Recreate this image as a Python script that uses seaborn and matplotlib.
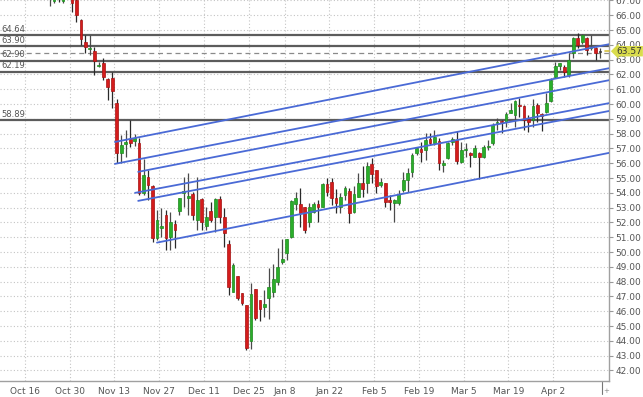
import numpy as np
import pandas as pd
import matplotlib
matplotlib.use("Agg")
import matplotlib.pyplot as plt
import matplotlib.transforms as mtransforms
import seaborn as sns

# ---------------- data ----------------
start_index = 5  # first listed trading day (0 = Oct 16)
opens = [67.4, 66.95, 67.3, 66.95, 67.6, 67.4, 67.0, 65.7, 64.2, 63.72, 63.6, 62.58, 62.75, 61.7, 61.75,
         60.07, 56.69, 57.3, 57.65, 57.5, 57.37, 54.0, 55.07, 54.46, 50.95, 51.65, 52.5, 51.02, 51.9,
         52.77, 54.0, 53.65, 53.92, 52.16, 53.58, 51.76, 52.77, 52.37, 53.58, 52.37, 50.54, 47.3, 48.38,
         47.23, 46.42, 43.99, 47.5, 46.76, 46.28, 46.89, 47.3, 47.97, 49.33, 49.93, 51.02, 53.25, 53.25,
         53.05, 52.03, 52.7, 53.25, 53.05, 54.6, 54.73, 53.65, 53.05, 53.85, 54.12, 52.7, 53.72, 54.67,
         54.67, 55.95, 55.54, 54.53, 54.67, 53.52, 53.32, 53.32, 54.19, 54.87, 55.41, 56.69, 56.96, 56.89,
         57.64, 57.37, 57.5, 55.9, 56.35, 57.43, 57.57, 56.08, 56.89, 56.69, 56.42, 56.69, 56.42, 57.1,
         57.37, 58.72, 58.85, 58.79, 59.39, 59.26, 59.96, 59.87, 58.99, 58.92, 59.93, 59.33, 59.46, 60.2,
         61.83, 62.57, 62.5, 61.96, 63.45, 64.46, 64.19, 64.46, 63.79, 63.79, 63.52]
highs = [67.8, 67.5, 67.6, 67.4, 67.9, 67.6, 67.2, 65.75, 64.65, 64.65, 63.85, 62.85, 63.1, 61.75, 62.15,
         60.34, 57.9, 58.25, 58.92, 57.95, 57.7, 56.3, 55.54, 54.53, 52.84, 52.97, 52.84, 52.7, 52.16,
         53.65, 55.07, 55.34, 54.06, 55.07, 53.65, 53.05, 53.38, 53.65, 53.8, 52.97, 50.81, 49.26, 48.38,
         47.23, 46.42, 47.9, 47.5, 46.76, 47.43, 48.92, 49.19, 50.27, 50.88, 50.88, 53.52, 54.06, 54.33,
         53.05, 53.32, 53.38, 53.52, 54.67, 55.0, 55.0, 54.26, 53.99, 54.46, 54.33, 54.46, 55.34, 55.81,
         56.08, 56.35, 55.54, 55.0, 54.67, 53.85, 53.58, 54.19, 55.41, 55.68, 56.69, 57.1, 57.43, 58.04,
         58.04, 58.25, 57.7, 56.22, 57.43, 57.77, 58.18, 57.43, 57.37, 56.76, 57.23, 56.76, 57.23, 57.57,
         58.72, 59.06, 58.92, 59.46, 60.07, 60.27, 60.41, 59.93, 59.26, 60.34, 60.07, 59.39, 60.75, 61.76,
         62.84, 62.77, 62.64, 63.45, 64.53, 64.8, 64.73, 64.53, 64.67, 63.86, 63.79]
lows = [66.6, 66.8, 66.9, 66.8, 67.1, 66.2, 65.55, 64.0, 63.45, 63.3, 61.95, 62.5, 61.6, 60.27, 59.73,
        56.02, 56.02, 56.42, 57.1, 57.15, 53.85, 53.85, 53.52, 50.68, 50.81, 51.02, 50.14, 50.14, 50.27,
        52.5, 53.05, 52.5, 52.16, 51.49, 51.49, 51.49, 52.03, 51.35, 51.96, 50.34, 47.1, 47.3, 46.76,
        46.42, 43.38, 43.45, 45.41, 45.34, 45.61, 45.47, 46.96, 47.77, 49.19, 49.46, 50.95, 52.84, 51.69,
        51.28, 51.69, 52.64, 52.03, 53.05, 53.8, 53.18, 52.64, 52.64, 53.52, 51.96, 52.64, 53.72, 53.72,
        53.99, 54.67, 53.99, 54.4, 53.05, 52.84, 52.03, 53.18, 54.06, 54.06, 55.07, 56.56, 56.08, 56.22,
        57.23, 57.23, 55.54, 55.41, 56.29, 57.23, 55.95, 56.02, 56.42, 55.74, 56.42, 54.94, 56.35, 56.89,
        57.23, 58.25, 58.04, 58.45, 59.39, 58.45, 59.12, 58.25, 58.11, 58.45, 58.79, 58.18, 59.39, 60.14,
        61.76, 62.3, 61.83, 61.83, 63.11, 63.79, 64.06, 63.31, 63.65, 62.98, 63.11]
closes = [67.6, 67.3, 67.1, 67.25, 67.4, 66.85, 66.0, 64.4, 63.85, 63.8, 62.9, 62.65, 61.8, 61.15, 60.88,
          56.69, 57.23, 57.45, 57.37, 57.7, 54.0, 55.2, 54.53, 50.95, 52.16, 51.75, 50.95, 52.03, 51.49,
          53.65, 54.12, 53.79, 52.5, 53.52, 52.0, 52.37, 52.16, 53.58, 52.37, 51.28, 47.64, 49.12, 46.89,
          46.56, 43.52, 47.16, 45.54, 46.15, 46.49, 47.64, 48.18, 48.99, 49.53, 50.88, 53.45, 53.65, 52.64,
          51.49, 53.05, 53.25, 53.05, 54.6, 54.06, 53.65, 53.32, 53.72, 54.33, 52.64, 53.92, 54.67, 54.26,
          55.81, 55.27, 54.46, 54.73, 53.38, 53.4, 53.52, 53.92, 54.87, 55.34, 56.56, 57.03, 56.76, 57.57,
          57.37, 57.77, 56.02, 56.0, 57.37, 57.64, 56.15, 56.89, 56.96, 56.56, 57.03, 56.42, 57.1, 57.17,
          58.58, 58.79, 58.79, 59.33, 59.6, 60.2, 59.87, 58.92, 58.79, 59.87, 59.39, 59.19, 60.07, 61.62,
          62.57, 62.77, 62.16, 62.98, 64.46, 63.99, 64.67, 63.65, 63.86, 63.45, 63.57]

tick_labels = ["Oct 16", "Oct 30", "Nov 13", "Nov 27", "Dec 11", "Dec 25", "Jan 8",
               "Jan 22", "Feb 5", "Feb 19", "Mar 5", "Mar 19", "Apr 2"]
tick_days = [0, 10, 20, 30, 40, 50, 58, 68, 78, 88, 98, 108, 118]

level_values = [64.64, 63.90, 62.90, 62.19, 58.89]
level_labels = ["64.64", "63.90", "62.90", "62.19", "58.89"]
dashed_level = 63.43
last_price = 63.57

# trend lines: (start day, start price, end day, end price)
trend_x0 = [19.6, 19.6, 24.8, 24.1, 24.8, 29.0]
trend_y0 = [57.44, 55.96, 55.42, 54.00, 53.46, 50.64]
trend_x1 = [130.0, 130.0, 130.0, 130.0, 130.0, 130.0]
trend_y1 = [64.04, 62.42, 61.61, 60.06, 59.53, 56.70]

# ---------------- figure ----------------
sns.set_theme(style="white")
plt.rcParams["font.family"] = ["DejaVu Sans"]

fig = plt.figure(figsize=(6.43, 3.97), dpi=100)
ax = fig.add_axes([0.0, 0.0403, 0.9471, 0.9597])

df = pd.DataFrame({"day": np.arange(start_index, start_index + len(opens)),
                   "open": opens, "high": highs, "low": lows, "close": closes})

up = df["close"] >= df["open"]
green, red = "#2aae2a", "#d41c1c"
colors = np.where(up, green, red).astype(object)
edges = np.where(up, "#1e8a1e", "#a81212").astype(object)
colors[-1] = "#555555"
edges[-1] = "#333333"
wick_cols = np.where(up, "#4a4a4a", "#2a2a2a").astype(object)

ax.vlines(df["day"], df["low"], df["high"], colors=list(wick_cols), linewidth=0.9, zorder=3)
body_bottom = np.minimum(df["open"], df["close"])
body_h = np.maximum(np.abs(df["close"] - df["open"]), 0.08)
ax.bar(df["day"], body_h, bottom=body_bottom, width=0.62, color=list(colors),
       edgecolor=list(edges), linewidth=0.5, zorder=4)

blend = mtransforms.blended_transform_factory(ax.transAxes, ax.transData)

# horizontal levels
for v, lab in zip(level_values, level_labels):
    ax.axhline(v, color="#5c5c5c", linewidth=1.6, zorder=2)
    ax.text(0.003, v + 0.12, lab, transform=blend,
            fontsize=6, color="#555555", va="bottom", ha="left", zorder=6)
ax.axhline(dashed_level, color="#8a8a8a", linewidth=0.9, linestyle=(0, (4, 3)), zorder=2)

# trend lines
trend_df = pd.DataFrame({
    "x": [v for pair in zip(trend_x0, trend_x1) for v in pair],
    "y": [v for pair in zip(trend_y0, trend_y1) for v in pair],
    "line": [i for i in range(len(trend_x0)) for _ in range(2)],
})
sns.lineplot(data=trend_df, x="x", y="y", units="line", estimator=None, color="#4a6ad6",
             linewidth=1.3, ax=ax, zorder=5, legend=False)

# axes
ax.set_xlim(-6.08, 130.0)
ax.set_ylim(41.29, 67.03)
ax.set_xlabel("")
ax.set_ylabel("")
ax.set_xticks([d - 0.5 for d in tick_days])
ax.set_xticklabels(tick_labels)
ax.set_yticks(np.arange(42, 68, 1))
ax.set_yticklabels([f"{v:.2f}" for v in np.arange(42, 68, 1)])
ax.yaxis.tick_right()
ax.tick_params(axis="y", which="both", right=True, left=False, length=3, width=0.8,
               color="#999999", labelsize=6.5, labelcolor="#555555", pad=1.5)
ax.tick_params(axis="x", length=0, labelsize=6.5, labelcolor="#555555", pad=4)

ax.grid(True, color="#c4c4c4", linestyle=(0, (1, 2)), linewidth=0.8, zorder=0)
ax.set_axisbelow(True)
for s in ["top", "left"]:
    ax.spines[s].set_visible(False)
for s in ["right", "bottom"]:
    ax.spines[s].set_color("#a0a0a0")
    ax.spines[s].set_linewidth(1.0)

# last price marker and tag
ax.plot([129.0, 129.9], [last_price, last_price], color="#d6c040", linewidth=1.2, zorder=6, clip_on=False)
ax.text(1.012, last_price, f"{last_price:.2f}", transform=blend,
        fontsize=6.5, color="#333333", va="center", ha="left", zorder=7, clip_on=False,
        bbox=dict(boxstyle="larrow,pad=0.08", facecolor="#d9dc4c", edgecolor="none"))

# small marker at bottom right
fig.add_artist(plt.Line2D([602 / 643, 602 / 643], [1 - 382 / 397, 1 - 394 / 397],
                          color="#777777", linewidth=0.8))
fig.text(606 / 643, 1 - 391 / 397, "+", fontsize=5, color="#888888", va="center", ha="center")

fig.savefig("out.png", dpi=100)
